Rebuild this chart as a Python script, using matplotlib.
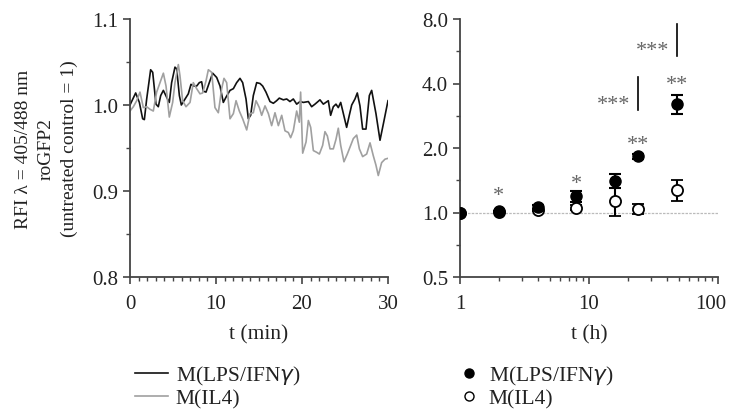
import matplotlib
matplotlib.use('Agg')
import matplotlib.pyplot as plt
import matplotlib.transforms as mtrans
from matplotlib.ticker import FixedLocator, NullFormatter

plt.rcParams['font.family'] = ['Liberation Serif', 'DejaVu Serif']
plt.rcParams['text.color'] = '#222222'
plt.rcParams['axes.labelcolor'] = '#222222'

# left panel: roGFP2 traces over 30 min
t_lps = [0.00, 0.66, 1.09, 1.47, 1.67, 1.94, 2.40, 2.64, 3.02, 3.29, 3.57, 3.88, 4.26, 4.57,
         4.84, 5.23, 5.43, 5.74, 5.97, 6.28, 6.78, 7.09, 7.44, 7.75, 8.06, 8.33, 8.53, 8.84,
         9.22, 9.61, 10.08, 10.47, 10.85, 11.16, 11.63, 12.02, 12.40, 12.79, 13.10, 13.49,
         13.76, 14.03, 14.34, 14.73, 15.12, 15.43, 15.81, 16.28, 16.67, 17.05, 17.36, 17.83,
         18.22, 18.60, 18.99, 19.38, 19.77, 20.16, 20.74, 21.12, 21.51, 22.09, 22.48, 23.06,
         23.33, 23.64, 23.95, 24.22, 24.50, 24.81, 25.19, 25.50, 25.78, 26.16, 26.43, 26.74,
         27.05, 27.44, 27.83, 28.10, 28.60, 29.07, 29.50, 30.00]
v_lps = [1.000, 1.014, 1.003, 0.984, 0.983, 1.007, 1.041, 1.038, 1.001, 0.998, 1.011, 1.017,
         1.009, 1.003, 1.026, 1.044, 1.042, 1.011, 1.000, 1.005, 1.013, 1.024, 1.022, 1.022,
         1.026, 1.027, 1.016, 1.015, 1.026, 1.037, 1.032, 1.022, 1.003, 1.009, 1.017, 1.019,
         1.026, 1.031, 1.026, 1.007, 0.984, 0.988, 1.011, 1.026, 1.025, 1.022, 1.015, 1.004,
         1.002, 1.005, 1.008, 1.006, 1.007, 1.004, 1.007, 1.001, 1.004, 1.003, 1.004, 0.998,
         1.001, 1.006, 1.001, 1.005, 0.988, 0.998, 1.001, 0.997, 1.003, 0.990, 0.974, 0.988,
         1.000, 1.007, 1.014, 0.999, 0.972, 0.972, 1.011, 1.017, 0.990, 0.959, 0.980, 1.005]

t_il4 = [0.00, 0.39, 0.78, 1.16, 1.55, 1.94, 2.33, 2.71, 3.10, 3.49, 3.88, 4.19, 4.57, 4.96,
         5.23, 5.62, 5.81, 6.12, 6.51, 6.98, 7.36, 7.75, 8.14, 8.45, 8.84, 9.11, 9.50, 9.88,
         10.27, 10.66, 10.93, 11.24, 11.63, 12.02, 12.33, 12.71, 13.10, 13.57, 13.95, 14.34,
         14.65, 15.04, 15.31, 15.70, 16.09, 16.47, 16.86, 17.25, 17.64, 18.02, 18.41, 18.68,
         18.99, 19.38, 19.69, 19.84, 20.08, 20.47, 20.74, 21.01, 21.32, 21.71, 22.02, 22.40,
         22.67, 22.95, 23.26, 23.64, 23.95, 24.22, 24.50, 24.88, 25.27, 25.66, 25.97, 26.36,
         26.67, 27.05, 27.52, 27.91, 28.29, 28.60, 28.87, 29.26, 29.65, 30.00]
v_il4 = [0.993, 0.998, 1.005, 1.015, 0.997, 0.998, 0.995, 0.993, 1.015, 1.026, 1.037, 1.022,
         0.986, 1.003, 1.026, 1.047, 1.034, 1.005, 0.998, 1.003, 1.026, 1.019, 1.013, 1.014,
         1.028, 1.041, 1.038, 0.997, 0.991, 1.019, 1.031, 1.026, 0.984, 0.990, 1.005, 0.993,
         0.984, 0.971, 0.990, 0.991, 1.005, 0.997, 0.988, 0.999, 0.990, 0.976, 0.991, 0.976,
         0.988, 0.970, 0.968, 0.962, 0.970, 0.993, 0.980, 1.015, 0.944, 0.957, 0.982, 0.974,
         0.947, 0.945, 0.943, 0.953, 0.969, 0.964, 0.949, 0.949, 0.960, 0.973, 0.953, 0.934,
         0.943, 0.953, 0.961, 0.965, 0.949, 0.940, 0.943, 0.956, 0.941, 0.930, 0.918, 0.933,
         0.937, 0.938]

# right panel: ratio over 48 h
hours = [1, 2, 4, 8, 16, 24, 48]
lps_mean = [1.00, 1.015, 1.06, 1.19, 1.405, 1.83, 3.20]
lps_err = [0.0, 0.0, 0.02, 0.07, 0.10, 0.05, 0.32]
il4_mean = [1.00, 1.01, 1.03, 1.055, 1.134, 1.04, 1.28]
il4_err = [0.0, 0.0, 0.01, 0.03, 0.17, 0.06, 0.145]

fs = 15.5
tfs = 15
axis_col = '#444444'

fig = plt.figure(figsize=(7.3, 4.1), dpi=100)
ax1 = fig.add_axes([130/730, 132/410, 258/730, 258/410])
ax2 = fig.add_axes([460/730, 132/410, 258/730, 258/410])

for ax in (ax1, ax2):
    for s in ('top', 'right'):
        ax.spines[s].set_visible(False)
    for s in ('left', 'bottom'):
        ax.spines[s].set_color(axis_col)
        ax.spines[s].set_linewidth(1.3)
    ax.tick_params(which='major', length=5, width=1.2, color=axis_col,
                   labelsize=tfs, labelcolor='#222222')
    ax.tick_params(which='minor', length=3, width=1.0, color=axis_col)
    ax.tick_params(axis='x', which='major', pad=7)

# ---- left
l1, = ax1.plot(t_lps, v_lps, color='#111111', lw=1.2)
l2, = ax1.plot(t_il4, v_il4, color='#a0a0a0', lw=1.2)
ax1.set_xlim(0, 30)
ax1.set_ylim(0.8, 1.1)
ax1.set_xticks([0, 10, 20, 30])
ax1.xaxis.set_minor_locator(FixedLocator(range(0, 31)))
ax1.set_yticks([0.8, 0.9, 1.0, 1.1])
ax1.set_yticklabels(['0.8', '0.9', '1.0', '1.1'])
ax1.yaxis.set_minor_locator(FixedLocator([0.85, 0.95, 1.05]))
ax1.set_xlabel('t (min)', fontsize=fs, labelpad=8)
ax1.set_ylabel('RFI λ = 405/488 nm\nroGFP2\n(untreated control = 1)',
               fontsize=14, linespacing=1.45, labelpad=10)

# ---- right
ax2.set_xscale('log')
ax2.set_yscale('log', base=2)
ax2.axhline(1.0, color='#bbbbbb', lw=0.9, ls=(0, (2, 1)), zorder=1)
ax2.errorbar(hours, il4_mean, yerr=il4_err, fmt='o', ms=8, mfc='white', mec='black',
             mew=1.3, ecolor='black', elinewidth=1.5, capsize=4, capthick=1.5, zorder=3)
ax2.errorbar(hours, lps_mean, yerr=lps_err, fmt='o', ms=8, mfc='black', mec='black',
             ecolor='black', elinewidth=1.5, capsize=4, capthick=1.5, zorder=4)
ax2.set_xlim(1, 100)
ax2.set_ylim(0.5, 8)
ax2.set_xticks([1, 10, 100])
ax2.set_xticklabels(['1', '10', '100'])
ax2.xaxis.set_minor_locator(FixedLocator([2, 3, 4, 5, 6, 7, 8, 9, 20, 30, 40, 50, 60, 70, 80, 90]))
ax2.xaxis.set_minor_formatter(NullFormatter())
ax2.set_yticks([0.5, 1, 2, 4, 8])
ax2.set_yticklabels(['0.5', '1.0', '2.0', '4.0', '8.0'])
ax2.yaxis.set_minor_locator(FixedLocator([0.707, 1.414, 2.828, 5.657]))
ax2.yaxis.set_minor_formatter(NullFormatter())
ax2.set_xlabel('t (h)', fontsize=fs, labelpad=8)
# nudge "100" left so it stays inside the figure
lab100 = ax2.xaxis.get_major_ticks()[2].label1
lab100.set_transform(lab100.get_transform() +
                     mtrans.ScaledTranslation(-5/72, 0, fig.dpi_scale_trans))

star_col = '#666666'
sfs = 16
ax2.text(2, 1.2, '*', ha='center', va='center', fontsize=sfs, color=star_col)
ax2.text(8, 1.37, '*', ha='center', va='center', fontsize=sfs, color=star_col)
ax2.text(24, 2.08, '**', ha='center', va='center', fontsize=sfs, color=star_col)
ax2.text(48, 3.95, '**', ha='center', va='center', fontsize=sfs, color=star_col)
ax2.plot([24, 24], [3.02, 4.31], color='black', lw=1.2)
ax2.text(21, 3.2, '***', ha='right', va='center', fontsize=sfs, color=star_col)
ax2.plot([48, 48], [5.4, 7.6], color='black', lw=1.2)
ax2.text(42, 5.7, '***', ha='right', va='center', fontsize=sfs, color=star_col)

# ---- legends
leg1 = fig.legend([l1, l2], ['M(LPS/IFN$\\gamma$)', 'M(IL4)'], loc='upper left',
                  bbox_to_anchor=(124/730, 1 - 354/410), frameon=False, fontsize=fs,
                  handlelength=1.55, handletextpad=0.35, labelspacing=0.08, borderpad=0)
h1 = ax2.plot([], [], 'o', ms=6.5, color='black')[0]
h2 = ax2.plot([], [], 'o', ms=6.5, mfc='white', mec='black', mew=1.0)[0]
leg2 = fig.legend([h1, h2], ['M(LPS/IFN$\\gamma$)', 'M(IL4)'], loc='upper left',
                  bbox_to_anchor=(452/730, 1 - 354/410), frameon=False, fontsize=fs,
                  handlelength=0.6, handletextpad=0.6, labelspacing=0.08, borderpad=0)

fig.savefig('out.png', dpi=100)
